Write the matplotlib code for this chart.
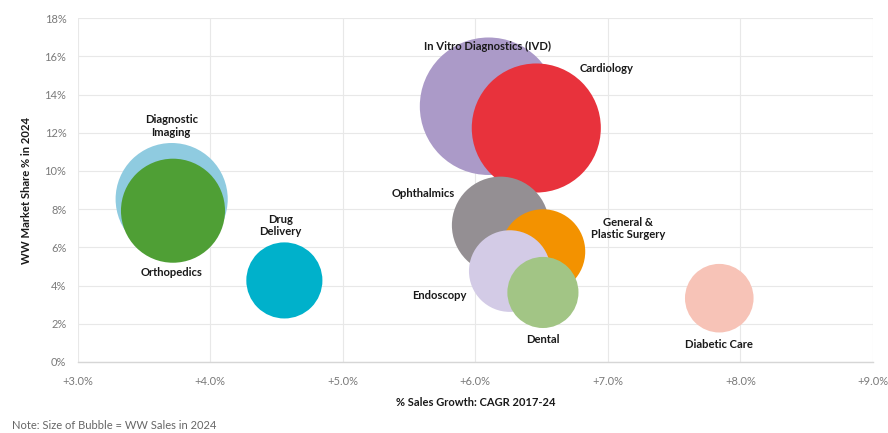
import matplotlib
matplotlib.use('Agg')
import matplotlib.pyplot as plt
import numpy as np

plt.rcParams['font.family'] = ['Lato', 'DejaVu Sans']

# segments drawn in this order (later ones sit on top)
segments = ['Diagnostic Imaging', 'Orthopedics', 'Drug Delivery',
            'In Vitro Diagnostics (IVD)', 'Cardiology', 'Ophthalmics',
            'General & Plastic Surgery', 'Endoscopy', 'Dental', 'Diabetic Care']
cagr = [3.71, 3.72, 4.56, 6.10, 6.46, 6.19, 6.51, 6.26, 6.51, 7.84]      # % sales growth 2017-24
share = [8.53, 7.92, 4.27, 13.39, 12.25, 7.16, 5.78, 4.76, 3.64, 3.34]   # WW market share % 2024
sales_bn = [53.2, 45.8, 24.5, 80.0, 70.5, 40.0, 30.3, 28.2, 21.4, 19.9]  # WW sales 2024, bubble size
colors = ['#8fcbe0', '#4f9f35', '#00b1cb', '#ab9ac8', '#e8323c', '#948f93',
          '#f39200', '#d3cbe6', '#a2c585', '#f7c3b7']

label_text = ['Diagnostic\nImaging', 'Orthopedics', 'Drug\nDelivery',
              'In Vitro Diagnostics (IVD)', 'Cardiology', 'Ophthalmics',
              'General &\nPlastic Surgery', 'Endoscopy', 'Dental', 'Diabetic Care']
label_x = [3.706, 3.713, 4.528, 6.09, 6.989, 5.604, 7.155, 5.732, 6.513, 7.834]
label_y = [12.36, 4.66, 7.15, 16.54, 15.34, 8.80, 6.98, 3.46, 1.20, 0.94]

fig = plt.figure(figsize=(8.88, 4.33), dpi=100)
ax = fig.add_axes([0.0873, 0.164, 0.8959, 0.794])

max_r_pt = 49.5
sizes = [(2 * max_r_pt) ** 2 * s / max(sales_bn) for s in sales_bn]
for i in range(len(segments)):
    ax.scatter(cagr[i], share[i], s=sizes[i], color=colors[i], edgecolors='none',
               zorder=3 + i)
    ax.text(label_x[i], label_y[i], label_text[i], ha='center', va='center',
            fontsize=8.1, fontweight='bold', color='#1a1a1a', linespacing=1.15,
            zorder=20)

ax.set_xlim(3, 9)
ax.set_ylim(0, 18)
ax.set_xticks(np.arange(3, 9.01, 1))
ax.set_xticklabels([f'+{v:.1f}%' for v in np.arange(3, 9.01, 1)])
ax.set_yticks(np.arange(0, 18.01, 2))
ax.set_yticklabels([f'{int(v)}%' for v in np.arange(0, 18.01, 2)])
ax.tick_params(length=0, labelsize=8, labelcolor='#7a7a7a', pad=10)
ax.tick_params(axis='y', pad=8)
ax.grid(True, color='#e8e8e8', lw=0.8, zorder=0)
ax.set_axisbelow(True)
for sp in ['top', 'right', 'left']:
    ax.spines[sp].set_visible(False)
ax.spines['bottom'].set_color('#d6d6d6')
ax.spines['bottom'].set_linewidth(1.0)

ax.set_xlabel('% Sales Growth: CAGR 2017-24', fontsize=8, fontweight='bold',
              color='#1a1a1a', labelpad=7)
ax.set_ylabel('WW Market Share % in 2024', fontsize=8.1, fontweight='bold',
              color='#1a1a1a', labelpad=9)

fig.text(0.0135, 0.005, 'Note: Size of Bubble = WW Sales in 2024', fontsize=8,
         color='#666666', ha='left', va='bottom')

fig.savefig('out.png', dpi=100)
